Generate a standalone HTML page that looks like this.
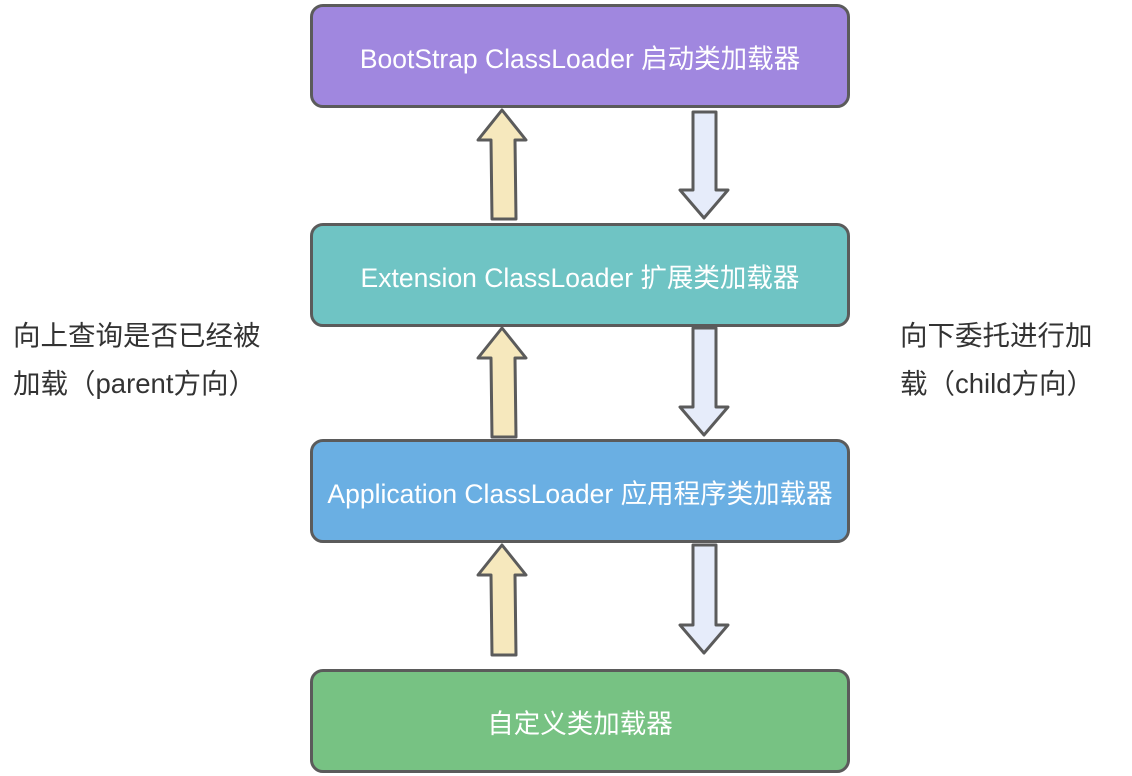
<!DOCTYPE html>
<html><head><meta charset="utf-8"><style>
body{margin:0;background:#fff;width:1132px;height:776px;position:relative;overflow:hidden;font-family:"Liberation Sans","Noto Sans CJK SC",sans-serif}
.b{position:absolute;left:310px;width:534px;height:98px;border:3px solid #5b5b5b;border-radius:13px;color:#fff;font-size:26.5px;display:flex;align-items:center;justify-content:center;box-sizing:content-box}
.t{position:absolute;font-size:27.5px;color:#333;line-height:48px}
svg{position:absolute;left:0;top:0}
</style></head><body>
<div class="b" style="top:4px;background:#a087df">BootStrap ClassLoader 启动类加载器</div>
<div class="b" style="top:223px;background:#6fc4c4">Extension ClassLoader 扩展类加载器</div>
<div class="b" style="top:439px;background:#6aafe3">Application ClassLoader 应用程序类加载器</div>
<div class="b" style="top:669px;background:#77c283">自定义类加载器</div>
<div class="t" style="left:13px;top:312px">向上查询是否已经被<br>加载（parent方向）</div>
<div class="t" style="left:900px;top:312px">向下委托进行加<br>载（child方向）</div>
<svg width="1132" height="776">
<g stroke="#5b5b5b" stroke-width="3" stroke-linejoin="round">
<path fill="#f6e8bd" d="M502 110 L526 140 L515 140 L516 219 L492 219 L491 140 L478 140 Z"/>
<path fill="#e6ecfa" d="M693 112 L716 112 L716 190 L728 190 L704 218 L680 190 L693 190 Z"/>
<path fill="#f6e8bd" d="M502 328 L526 358 L515 358 L516 437 L492 437 L491 358 L478 358 Z"/>
<path fill="#e6ecfa" d="M693 328 L716 328 L716 407 L728 407 L704 435 L680 407 L693 407 Z"/>
<path fill="#f6e8bd" d="M502 545 L526 575 L515 575 L516 655 L492 655 L491 575 L478 575 Z"/>
<path fill="#e6ecfa" d="M693 545 L716 545 L716 625 L728 625 L704 653 L680 625 L693 625 Z"/>
</g></svg>
</body></html>
